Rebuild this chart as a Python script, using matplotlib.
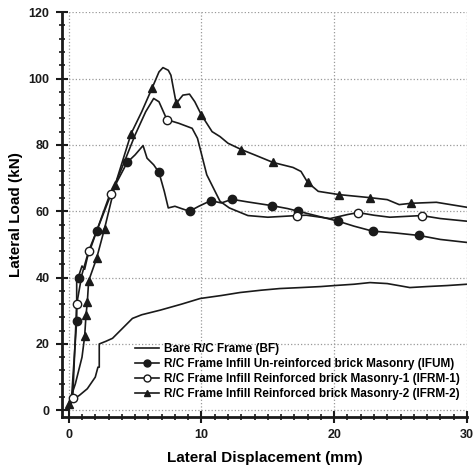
"""Lateral load vs displacement curves for bare and infilled R/C frames."""

import matplotlib
matplotlib.use("Agg")
import matplotlib.pyplot as plt
from matplotlib.lines import Line2D
from matplotlib.ticker import MultipleLocator

plt.rcParams['font.family'] = ['Liberation Sans', 'DejaVu Sans']
plt.rcParams['font.weight'] = 'bold'

# Bare R/C Frame (BF)
bf_x = [0, 0.2, 0.8, 1.4, 2.0, 2.2, 2.3, 2.3, 2.8, 3.3, 4.0, 4.8, 5.5, 6.9, 8.5,
        9.9, 11.5, 12.9, 14.5, 15.9, 17.5, 19.0, 20.0, 21.5, 22.7, 24.0, 25.0,
        25.7, 27.0, 28.5, 30.0]
bf_y = [0, 3, 4.5, 6.5, 10, 13, 13, 20, 20.8, 21.7, 24.5, 27.7, 28.8, 30.2, 32,
        33.7, 34.6, 35.5, 36.2, 36.7, 37.0, 37.3, 37.6, 38.0, 38.5, 38.2, 37.5,
        37.0, 37.3, 37.6, 38.0]

# Infill un-reinforced brick masonry (IFUM)
ifum_x = [0, 0.2, 0.6, 0.6, 0.75, 1.0, 1.2, 1.4, 2.1, 3.0, 4.4, 5.0, 5.6, 5.9,
          6.4, 6.8, 7.2, 7.5, 8.0, 8.5, 9.1, 9.8, 10.7, 11.5, 12.3, 13.5, 15.3,
          16.5, 17.3, 18.5, 20.3, 21.5, 22.9, 24.5, 26.4, 28.0, 30.0]
ifum_y = [0, 3, 27, 40, 40.5, 43.5, 42.5, 46, 54, 64, 74.7, 77, 79.8, 76, 74,
          71.7, 66, 61, 61.5, 60.8, 60, 61.5, 63.2, 62.5, 63.6, 62.8, 61.7,
          60.8, 60, 58.8, 57, 55.5, 54, 53.5, 52.7, 51.5, 50.6]
ifum_mx = [0.6, 0.75, 2.1, 4.4, 6.8, 9.1, 10.7, 12.3, 15.3, 17.3, 20.3, 22.9, 26.4]
ifum_my = [27, 40, 54, 74.7, 71.7, 60, 63.2, 63.6, 61.7, 60, 57, 54, 52.7]

# Infill reinforced brick masonry-1 (IFRM-1)
ifrm1_x = [0, 0.3, 0.6, 1.0, 1.5, 2.2, 3.2, 4.0, 5.0, 5.8, 6.4, 6.8, 7.4, 8.3,
           9.3, 9.7, 10.4, 11.4, 12.1, 13.5, 15.0, 17.2, 17.9, 19.7, 21.0,
           21.8, 23.0, 24.2, 26.6, 28.0, 30.0]
ifrm1_y = [0, 3.6, 32, 41, 48, 55, 65.3, 73, 83, 90, 94, 93, 87.6, 86.5, 85, 82,
           71, 63, 61, 58.7, 58.2, 58.7, 58.8, 57.8, 59, 59.6, 58.8, 58.2,
           58.7, 57.8, 57.0]
ifrm1_mx = [0.3, 0.6, 1.5, 3.2, 7.4, 17.2, 21.8, 26.6]
ifrm1_my = [3.6, 32, 48, 65.3, 87.6, 58.7, 59.6, 58.7]

# Infill reinforced brick masonry-2 (IFRM-2)
ifrm2_x = [0, 0.5, 1.0, 1.2, 1.3, 1.4, 1.5, 2.1, 2.7, 3.5, 4.7, 5.5, 6.3, 6.8,
           7.1, 7.5, 7.7, 8.1, 8.6, 9.1, 9.5, 10.0, 10.8, 11.4, 12.0, 13.0,
           14.0, 15.4, 16.9, 17.5, 18.0, 18.8, 20.4, 22.7, 24.0, 24.9, 25.8,
           27.7, 30.0]
ifrm2_y = [2, 8, 16, 22.3, 28.6, 32.5, 39, 45.8, 54.8, 68, 83.4, 90, 97.3, 102,
           103.3, 102.5, 101, 92.5, 95, 95.3, 93, 89, 84, 82.5, 80.5, 78.6, 77,
           74.7, 73.2, 72, 68.7, 66, 65, 64.1, 63.5, 62, 62.4, 62.7, 61.2]
ifrm2_mx = [0, 1.2, 1.3, 1.4, 1.5, 2.1, 2.7, 3.5, 4.7, 6.3, 8.1, 10.0, 13.0,
            15.4, 18.0, 20.4, 22.7, 25.8]
ifrm2_my = [2, 22.3, 28.6, 32.5, 39, 45.8, 54.8, 68, 83.4, 97.3, 92.5, 89, 78.6,
            74.7, 68.7, 65, 64.1, 62.4]

labels = [
    "Bare R/C Frame (BF)",
    "R/C Frame Infill Un-reinforced brick Masonry (IFUM)",
    "R/C Frame Infill Reinforced brick Masonry-1 (IFRM-1)",
    "R/C Frame Infill Reinforced brick Masonry-2 (IFRM-2)",
]

fig = plt.figure(figsize=(4.74, 4.69), dpi=100)
ax = fig.add_axes([0.131, 0.111, 0.854, 0.863])

lw = 1.2
col = '#1a1a1a'
ax.plot(bf_x, bf_y, color=col, lw=lw)
ax.plot(ifum_x, ifum_y, color=col, lw=lw)
ax.plot(ifrm1_x, ifrm1_y, color=col, lw=lw)
ax.plot(ifrm2_x, ifrm2_y, color=col, lw=lw)

ax.plot(ifum_mx, ifum_my, 'o', color=col, ms=6, zorder=3)
ax.plot(ifrm1_mx, ifrm1_my, 'o', mfc='white', mec=col, mew=1.0, ms=6, zorder=3)
ax.plot(ifrm2_mx, ifrm2_my, '^', color=col, ms=6, zorder=3)

ax.set_xlim(-0.5, 30)
ax.set_ylim(-2, 120)
ax.xaxis.set_major_locator(MultipleLocator(10))
ax.xaxis.set_minor_locator(MultipleLocator(1))
ax.yaxis.set_major_locator(MultipleLocator(20))
ax.yaxis.set_minor_locator(MultipleLocator(4))

for side in ['top', 'right']:
    ax.spines[side].set_visible(False)
for side in ['left', 'bottom']:
    ax.spines[side].set_linewidth(2)
    ax.spines[side].set_color(col)

ax.tick_params(which='major', direction='inout', length=8, width=1.5,
               labelsize=9, colors=col, pad=5)
ax.tick_params(which='minor', direction='inout', length=5, width=1.2, colors=col)
ax.grid(True, which='major', linestyle=':', color='#999999', lw=0.9)

ax.set_xlabel("Lateral Displacement (mm)", fontsize=11, fontweight='bold', labelpad=7)
ax.set_ylabel("Lateral Load (kN)", fontsize=11, fontweight='bold', labelpad=4)

handles = [
    Line2D([], [], color=col, lw=lw),
    Line2D([], [], color=col, lw=lw, marker='o', ms=5),
    Line2D([], [], color=col, lw=lw, marker='o', ms=5, mfc='white', mec=col),
    Line2D([], [], color=col, lw=lw, marker='^', ms=5),
]
ax.legend(handles, labels, loc='lower left', bbox_to_anchor=(0.169, 0.03),
          frameon=False, fontsize=8.5, handlelength=2.0, handletextpad=0.4,
          labelspacing=0.25, borderaxespad=0)

fig.savefig("out.png", dpi=100)
